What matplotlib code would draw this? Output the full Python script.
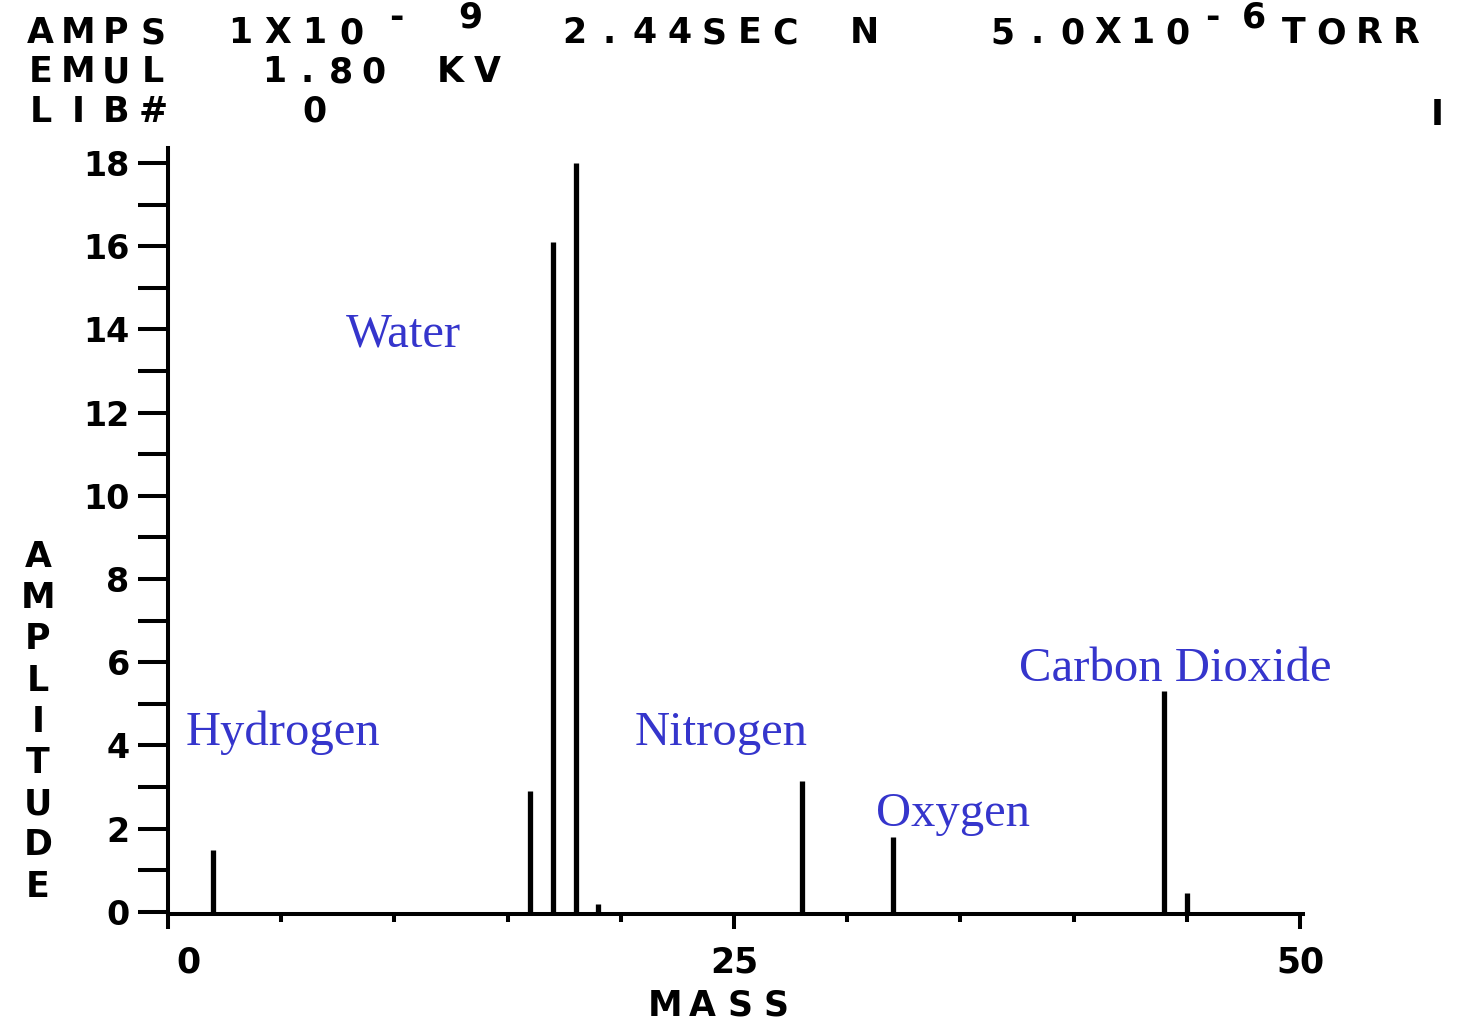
#
# Residual gas analyzer printout - mass spectrum
#
import matplotlib
matplotlib.use("Agg")
import matplotlib.pyplot as plt
from matplotlib.transforms import ScaledTranslation

W, H = 1461, 1030

# ---- data ----
masses     = [2, 16, 17, 18, 19, 28, 32, 44, 45]
amplitudes = [1.5, 2.9, 16.1, 18.0, 0.2, 3.15, 1.8, 5.3, 0.45]

gas_names  = ["Hydrogen", "Water", "Nitrogen", "Oxygen", "Carbon Dioxide"]

x_major    = [0, 25, 50]
x_minor    = [5, 10, 15, 20, 30, 35, 40, 45]
y_ticks    = list(range(0, 19))
y_labels   = [str(v) if v % 2 == 0 else "" for v in y_ticks]

header_1   = ["AMPS", "1X10", "-", "9", "2.44SEC", "N", "5.0X10", "-", "6", "TORR"]
header_2   = ["EMUL", "1.80", "KV"]
header_3   = ["LIB#", "0", "I"]
y_title    = "AMPLITUDE"
x_title    = "MASS"

plt.rcParams['font.family'] = ['DejaVu Sans']
plt.rcParams['font.weight'] = 'bold'

BLUE = '#3535cc'
BLOCK = dict(family='DejaVu Sans', weight='heavy', color='black')


def pix_text(fig, s, x0, yc, pitch=37.5, size=25):
    # old printer font: one glyph per cell
    for i, ch in enumerate(s):
        if ch == ' ':
            continue
        fig.text((x0 + i * pitch + pitch / 2) / W, 1 - yc / H, ch,
                 ha='center', va='center', fontsize=size, **BLOCK)


fig = plt.figure(figsize=(W / 100, H / 100), dpi=100)
ax = fig.add_axes([168 / W, 1 - 914 / H, (1303 - 168) / W, (914 - 148) / H])

ax.vlines(masses, 0, amplitudes, colors='black', linewidth=3.8, capstyle='butt')

ax.set_xlim(0, 50.13)
ax.set_ylim(-0.05, 18.36)

for side in ('top', 'right'):
    ax.spines[side].set_visible(False)
for side in ('left', 'bottom'):
    ax.spines[side].set_linewidth(2.9)

ax.set_xticks(x_major)
ax.set_xticklabels([str(v) for v in x_major])
ax.set_xticks(x_minor, minor=True)
ax.tick_params(axis='x', which='major', direction='out', length=11, width=2.9,
               pad=12, labelsize=25)
ax.tick_params(axis='x', which='minor', direction='out', length=6, width=2.9)
zero_lbl = ax.get_xticklabels()[0]
zero_lbl.set_transform(zero_lbl.get_transform() + ScaledTranslation(0.2, 0, fig.dpi_scale_trans))

ax.set_yticks(y_ticks)
ax.set_yticklabels(y_labels)
ax.tick_params(axis='y', direction='out', length=21.6, width=2.9, pad=6, labelsize=24)

# gas labels
ax.text(0.8, 4.0, gas_names[0], fontsize=35, color=BLUE, family='Liberation Serif',
        weight='normal', va='baseline')
ax.text(7.85, 13.6, gas_names[1], fontsize=35, color=BLUE, family='Liberation Serif',
        weight='normal', va='baseline')
ax.text(20.6, 4.0, gas_names[2], fontsize=35, color=BLUE, family='Liberation Serif',
        weight='normal', va='baseline')
ax.text(31.25, 2.07, gas_names[3], fontsize=35, color=BLUE, family='Liberation Serif',
        weight='normal', va='baseline')
ax.text(37.6, 5.55, gas_names[4], fontsize=35, color=BLUE, family='Liberation Serif',
        weight='normal', va='baseline')

# header lines
pix_text(fig, header_1[0], 22, 33)
pix_text(fig, header_1[1], 222, 33, pitch=37)
pix_text(fig, header_1[2], 378, 18)
pix_text(fig, header_1[3], 452, 18)
pix_text(fig, header_1[4], 557, 33, pitch=35)
pix_text(fig, header_1[5], 846, 33)
pix_text(fig, header_1[6], 985, 33, pitch=35)
pix_text(fig, header_1[7], 1195, 18, pitch=35)
pix_text(fig, header_1[8], 1237, 18, pitch=35)
pix_text(fig, header_1[9], 1275, 33)

pix_text(fig, header_2[0], 22, 72)
pix_text(fig, header_2[1], 258, 72, pitch=33)
pix_text(fig, header_2[2], 431, 72)

pix_text(fig, header_3[0], 22, 112)
pix_text(fig, header_3[1], 296, 112)
pix_text(fig, header_3[2], 1418, 115)

# axis titles
for i, ch in enumerate(y_title):
    fig.text(38 / W, 1 - (557 + i * 41.2) / H, ch, ha='center', va='center',
             fontsize=25, **BLOCK)
pix_text(fig, x_title, 647, 1006, pitch=37)

fig.savefig("out.png", dpi=100)
